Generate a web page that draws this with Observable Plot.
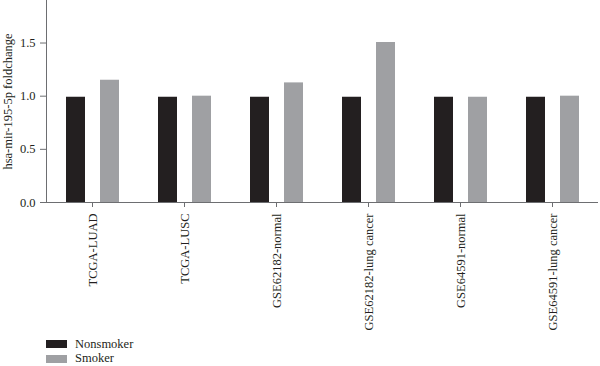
<!DOCTYPE html>
<html>
<head>
<meta charset="utf-8">
<script src="https://cdn.jsdelivr.net/npm/d3@7"></script>
<script src="https://cdn.jsdelivr.net/npm/@observablehq/plot@0.6"></script>
<style>
  body { margin: 0; background: #fff; font-family: "Liberation Serif", serif; }
  #chart svg { display: block; }
  .legend { margin-left: 46px; margin-top: 3px; font: 12.5px "Liberation Serif", serif; color: #231f20; }
  .legend .row { display: flex; align-items: center; height: 14.5px; }
  .legend .sw { width: 21px; height: 8px; margin-right: 8px; }
</style>
</head>
<body>
<div id="chart"></div>
<script>
const categories = ["TCGA-LUAD", "TCGA-LUSC", "GSE62182-normal", "GSE62182-lung cancer", "GSE64591-normal", "GSE64591-lung cancer"];
const groups = ["Nonsmoker", "Smoker"];
const nonsmoker = [0.99, 0.99, 0.99, 0.99, 0.99, 0.99];
const smoker = [1.15, 1.0, 1.125, 1.505, 0.99, 1.0];
const yTicks = [0, 0.5, 1.0, 1.5];
const colors = ["#231f20", "#9fa0a3"];

const data = [];
categories.forEach((c, i) => {
  data.push({cat: c, group: groups[0], value: nonsmoker[i]});
  data.push({cat: c, group: groups[1], value: smoker[i]});
});

const plot = Plot.plot({
  width: 600,
  height: 334,
  marginTop: 0,
  marginLeft: 45,
  marginRight: 2,
  marginBottom: 132,
  style: {fontFamily: "Liberation Serif, serif", fontSize: "12.5px", color: "#231f20", background: "#fff"},
  fx: {domain: categories, padding: 0, label: null},
  x: {domain: groups, paddingInner: 0.45, paddingOuter: 0.56, axis: null},
  y: {domain: [0, 1.9], label: null},
  color: {domain: groups, range: colors},
  marks: [
    Plot.barY(data, {fx: "cat", x: "group", y: "value", fill: "group"}),
    Plot.ruleY([0], {stroke: "#6d6e71", strokeWidth: 1}),
    Plot.frame({anchor: "left", facetAnchor: "left", stroke: "#6d6e71", strokeWidth: 1}),
    Plot.axisY({ticks: yTicks, tickFormat: d3.format(".1f"), tickSize: 6, tickPadding: 5, stroke: "#6d6e71",
      label: "hsa-mir-195-5p foldchange", labelAnchor: "center", labelArrow: "none", labelOffset: 43}),
    Plot.axisFx({anchor: "bottom", tickRotate: -90, tickSize: 5, tickPadding: 6, stroke: "#6d6e71", label: null})
  ]
});
document.getElementById("chart").appendChild(plot);

const legend = document.createElement("div");
legend.className = "legend";
groups.forEach((g, i) => {
  const row = document.createElement("div");
  row.className = "row";
  const sw = document.createElement("span");
  sw.className = "sw";
  sw.style.background = colors[i];
  const t = document.createElement("span");
  t.textContent = g;
  row.appendChild(sw);
  row.appendChild(t);
  legend.appendChild(row);
});
document.getElementById("chart").appendChild(legend);
</script>
</body>
</html>
